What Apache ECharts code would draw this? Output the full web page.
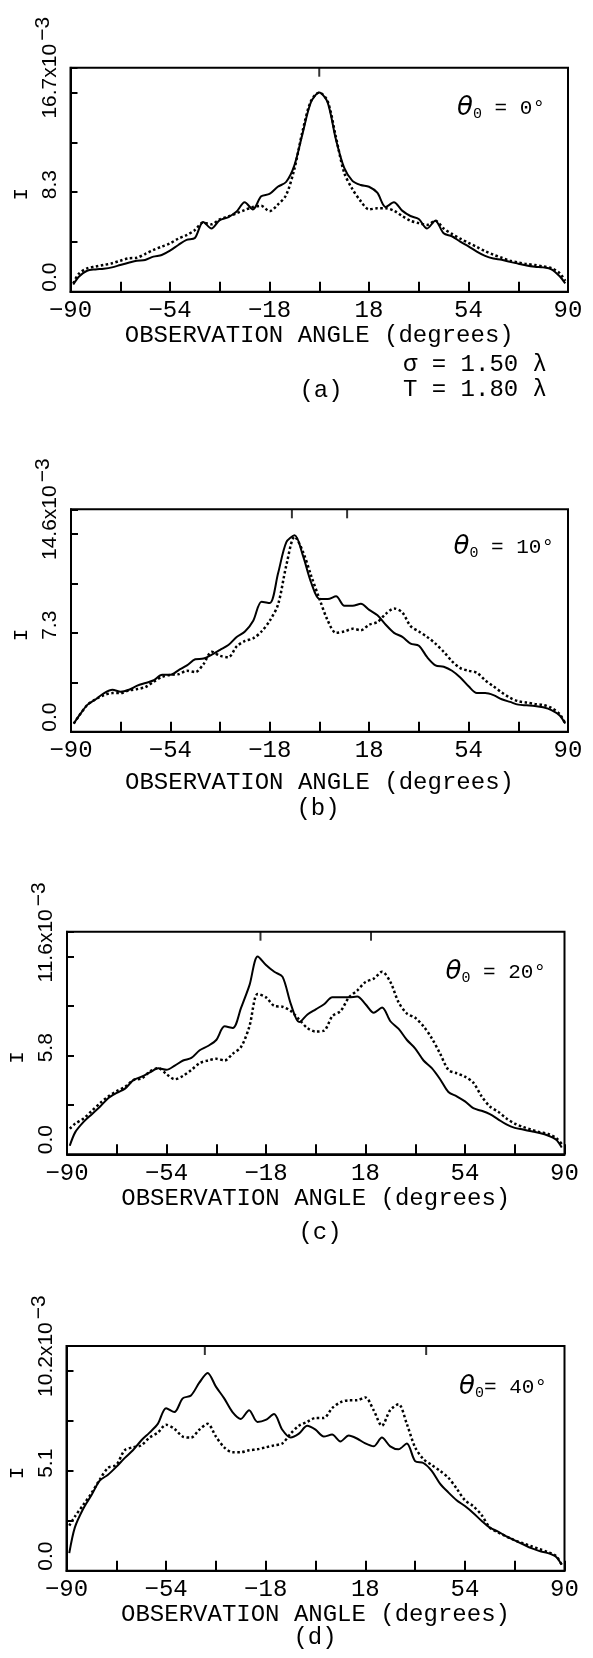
<!DOCTYPE html>
<html>
<head>
<meta charset="utf-8">
<script src="https://cdn.jsdelivr.net/npm/echarts@6.0.0/dist/echarts.min.js"></script>
<style>
  html, body { margin: 0; padding: 0; background: #fff; }
  #chart { width: 593px; height: 1658px; }
</style>
</head>
<body>
<div id="chart"></div>
<script>
// observation angles (degrees), shared by every curve
const ANGLES = [
  -89, -87, -84, -81, -78, -75, -72, -69, -66, -63,
  -60, -57, -54, -51, -48, -45, -42, -39, -36, -33,
  -30, -27, -24, -21, -18, -15, -12, -9, -6, -3,
  0,
  3, 6, 9, 12, 15, 18, 21, 24, 27, 30,
  33, 36, 39, 42, 45, 48, 51, 54, 57, 60,
  63, 66, 69, 72, 75, 78, 81, 84, 87, 89
];

// intensity I (x10^-3), solid and dotted curves per panel
const SOLID_A = [
  0.6, 1.26, 1.76, 1.87, 1.93, 2.04, 2.24, 2.43, 2.6, 2.66,
  2.94, 3.08, 3.44, 3.92, 4.35, 4.5, 5.85, 5.3, 6.0, 6.24,
  6.7, 7.5, 6.9, 8.0, 8.2, 8.8, 9.2, 10.6, 13.3, 15.9,
  16.7,
  15.9, 12.8, 10.4, 9.3, 8.95, 8.8, 8.3, 7.1, 7.5, 6.8,
  6.35, 6.1, 5.3, 5.95, 4.9, 4.65, 4.2, 3.8, 3.36, 3.0,
  2.78, 2.68, 2.5, 2.35, 2.2, 2.1, 2.04, 1.88, 1.3, 0.7
];
const DOTTED_A = [
  0.7, 1.5, 1.96, 2.1, 2.24, 2.38, 2.6, 2.8, 2.85, 3.16,
  3.5, 3.78, 4.05, 4.45, 4.75, 5.17, 5.8, 5.65, 6.07, 6.3,
  6.57, 6.85, 7.1, 7.2, 6.75, 7.3, 8.1, 10.3, 13.5, 16.0,
  16.7,
  16.0, 13.0, 10.0, 8.6, 7.6, 6.9, 7.0, 7.0, 6.8, 6.35,
  5.95, 5.75, 5.6, 5.95, 5.3, 4.85, 4.45, 4.1, 3.75, 3.4,
  3.1, 2.85, 2.6, 2.45, 2.32, 2.24, 2.12, 1.98, 1.55, 0.9
];
const SOLID_B = [
  0.6, 1.2, 2.0, 2.4, 2.85, 3.1, 2.95, 3.1, 3.4, 3.6,
  3.8, 4.2, 4.2, 4.55, 4.9, 5.35, 5.4, 5.7, 6.05, 6.4,
  7.0, 7.4, 8.2, 9.6, 9.5, 11.7, 14.0, 14.5, 13.0, 11.0,
  9.8,
  9.8, 10.0, 9.3, 9.3, 9.45, 9.0, 8.6, 7.9, 7.3, 7.0,
  6.5, 6.35, 5.5, 4.9, 4.8, 4.5, 4.0, 3.35, 2.85, 2.85,
  2.7, 2.4, 2.2, 2.0, 1.95, 1.9, 1.8, 1.6, 1.2, 0.6
];
const DOTTED_B = [
  0.6, 1.2, 2.0, 2.4, 2.7, 2.85, 2.85, 3.05, 3.15, 3.3,
  3.7, 4.05, 4.2, 4.25, 4.5, 4.4, 5.0, 5.9, 5.6, 5.5,
  6.3, 6.7, 6.9, 7.4, 8.2, 9.4, 12.3, 14.4, 13.3, 11.5,
  9.8,
  8.2, 7.3, 7.4, 7.6, 7.5, 7.9, 8.1, 8.7, 9.1, 8.8,
  7.8, 7.4, 7.0, 6.5, 5.9, 5.2, 4.7, 4.5, 4.35, 3.8,
  3.35, 2.9, 2.5, 2.25, 2.15, 2.05, 1.97, 1.75, 1.3, 0.6
];
const SOLID_C = [
  0.5, 1.3, 1.9, 2.35, 2.8, 3.3, 3.6, 3.85, 4.35, 4.55,
  4.8, 5.05, 4.95, 5.2, 5.5, 5.65, 6.1, 6.35, 6.7, 7.5,
  7.4, 8.6, 9.9, 11.6, 11.1, 10.7, 10.4, 8.8, 7.75, 8.2,
  8.5,
  8.8, 9.2, 9.2, 9.2, 9.25, 8.8, 8.3, 8.6, 7.8, 7.35,
  6.7, 6.2, 5.5, 5.05, 4.4, 3.65, 3.4, 3.1, 2.7, 2.55,
  2.35, 2.05, 1.75, 1.55, 1.45, 1.35, 1.25, 1.1, 0.85, 0.4
];
const DOTTED_C = [
  1.5, 1.8, 2.1, 2.55, 3.0, 3.4, 3.7, 3.95, 4.35, 4.45,
  4.85, 5.05, 4.7, 4.4, 4.6, 4.95, 5.35, 5.5, 5.6, 5.5,
  5.9, 6.3, 7.5, 9.4, 9.2, 8.7, 8.65, 8.4, 7.9, 7.4,
  7.2,
  7.25, 8.1, 8.4, 9.2, 9.6, 10.1, 10.3, 10.7, 10.1, 8.9,
  8.25, 8.0, 7.5, 6.8, 5.9, 4.95, 4.75, 4.55, 4.2, 3.4,
  2.8, 2.5, 2.1, 1.8, 1.6, 1.45, 1.3, 1.2, 0.95, 0.6
];
const SOLID_D = [
  0.9, 2.2, 3.15, 3.85, 4.6, 4.9, 5.3, 5.75, 6.15, 6.65,
  7.05, 7.5, 8.3, 8.1, 8.8, 8.95, 9.6, 10.1, 9.4, 8.8,
  8.1, 7.75, 8.2, 7.6, 7.7, 8.0, 7.2, 6.8, 7.0, 7.4,
  7.2,
  6.85, 6.95, 6.6, 6.9, 6.75, 6.5, 6.35, 6.8, 6.35, 6.2,
  6.5, 5.6, 5.5, 5.1, 4.45, 4.0, 3.6, 3.3, 2.95, 2.55,
  2.2, 2.0, 1.75, 1.55, 1.35, 1.15, 1.0, 0.9, 0.7, 0.3
];
const DOTTED_D = [
  2.3, 2.76, 3.35, 3.95, 4.65, 5.25, 5.4, 6.15, 6.3, 6.4,
  6.8, 7.05, 7.45, 7.25, 6.85, 6.8, 7.2, 7.5, 6.85, 6.3,
  6.05, 6.05, 6.15, 6.2, 6.3, 6.4, 6.5, 7.0, 7.4, 7.6,
  7.8,
  7.8, 8.3, 8.6, 8.7, 8.7, 8.85, 8.2, 7.4, 8.2, 8.5,
  7.5, 6.3, 5.7, 5.4, 5.1, 4.75, 4.2, 3.6, 3.3, 2.85,
  2.2, 1.95, 1.75, 1.55, 1.4, 1.25, 1.1, 0.95, 0.75, 0.3
];

const SOLID = [SOLID_A, SOLID_B, SOLID_C, SOLID_D];
const DOTTED = [DOTTED_A, DOTTED_B, DOTTED_C, DOTTED_D];

// incidence angle theta_0 for each panel
const INCIDENCE = [0, 10, 20, 40];
// labelled y ticks
const Y_TOP = [16.7, 14.6, 11.6, 10.2];
const Y_TOP_LABELS = ['16.7', '14.6', '11.6', '10.2'];
const Y_MID_LABELS = ['8.3', '7.3', '5.8', '5.1'];
// labelled x ticks
const X_LABELS = [-90, -54, -18, 18, 54, 90];
const PANEL_LABELS = ['(a)', '(b)', '(c)', '(d)'];
const THETA_TEXT = [' = 0°', ' = 10°', ' = 20°', '= 40°'];

// layout of the four plot boxes
const boxes = [
  { left: 70.5, top: 67.7, width: 497.5, height: 224, nameGap: 27, thX: 545, thY: 108, labX: 321, labY: 391 },
  { left: 71, top: 509.3, width: 497, height: 222.4, nameGap: 39, thX: 554, thY: 547, labX: 318, labY: 809 },
  { left: 67, top: 931.7, width: 497.5, height: 222.6, nameGap: 29, thX: 546, thY: 972, labX: 320, labY: 1233 },
  { left: 66.5, top: 1346, width: 498, height: 224.7, nameGap: 27, thX: 547, thY: 1387, labX: 315, labY: 1638 }
];

const MONO = '"Liberation Mono", "DejaVu Sans Mono", monospace';
const SANS = '"Liberation Sans", "DejaVu Sans", sans-serif';
const black = '#000';
const lineSt = { color: black, width: 2 };

function fmtAngle(v) {
  v = Math.round(v);
  return v < 0 ? '\u2212' + (-v) : String(v);
}

const myChart = echarts.init(document.getElementById('chart'), null, { renderer: 'canvas' });

const grid = [];
const xAxis = [];
const yAxis = [];
const series = [];
const graphic = [];

boxes.forEach(function (b, i) {
  const top = Y_TOP[i];
  const step = top / 4;
  const ymax = top * 1.125;
  const inc = INCIDENCE[i];

  grid.push({
    left: b.left, top: b.top, width: b.width, height: b.height,
    show: true, borderColor: black, borderWidth: 2, backgroundColor: 'transparent'
  });

  xAxis.push({
    type: 'value', gridIndex: i, position: 'bottom',
    min: -90, max: 90, interval: 18,
    axisLine: { show: true, onZero: false, lineStyle: lineSt },
    axisTick: { show: true, inside: true, length: 10, lineStyle: lineSt },
    axisLabel: {
      show: true, margin: 7, color: black, fontFamily: MONO, fontSize: 24,
      formatter: function (v) {
        return X_LABELS.indexOf(Math.round(v)) >= 0 ? fmtAngle(v) : '';
      }
    },
    splitLine: { show: false },
    name: 'OBSERVATION ANGLE (degrees)',
    nameLocation: 'middle',
    nameGap: b.nameGap,
    nameTextStyle: { color: black, fontFamily: MONO, fontSize: 24 }
  });

  yAxis.push({
    type: 'value', gridIndex: i,
    min: 0, max: ymax, interval: step,
    axisLine: { show: true, onZero: false, lineStyle: lineSt },
    axisTick: { show: true, inside: true, length: 7, lineStyle: lineSt },
    axisLabel: { show: false },
    splitLine: { show: false }
  });

  series.push({
    type: 'line', xAxisIndex: i, yAxisIndex: i,
    data: ANGLES.map(function (a, j) { return [a, SOLID[i][j]]; }),
    showSymbol: false, smooth: 0.3, silent: true,
    lineStyle: { color: black, width: 2 }
  });
  series.push({
    type: 'line', xAxisIndex: i, yAxisIndex: i,
    data: ANGLES.map(function (a, j) { return [a, DOTTED[i][j]]; }),
    showSymbol: false, smooth: 0.3, silent: true,
    lineStyle: { color: black, width: 2.5, type: [2.5, 2.5] }
  });
  // short ticks hanging from the top edge at +/- theta_0
  const incTicks = inc === 0 ? [0] : [-inc, inc];
  series.push({
    type: 'scatter', xAxisIndex: i, yAxisIndex: i,
    data: incTicks.map(function (t) { return [t, ymax]; }),
    symbol: 'rect', symbolSize: [2, 9], symbolOffset: [0, 4.5],
    clip: false, silent: true,
    itemStyle: { color: black }
  });

  // theta_0 label inside the box
  graphic.push({
    type: 'text', x: b.thX, y: b.thY, silent: true,
    style: {
      text: '{th|\u03b8}{sb|0}{eq|' + THETA_TEXT[i] + '}',
      align: 'right', verticalAlign: 'middle',
      rich: {
        th: { fontFamily: '"DejaVu Sans"', fontStyle: 'italic', fontSize: 26, lineHeight: 28, verticalAlign: 'middle', fill: black },
        sb: { fontFamily: MONO, fontSize: 15, lineHeight: 15, verticalAlign: 'bottom', fill: black },
        eq: { fontFamily: MONO, fontSize: 21, lineHeight: 28, verticalAlign: 'middle', fill: black }
      }
    }
  });
  // panel label
  graphic.push({
    type: 'text', x: b.labX, y: b.labY, silent: true,
    style: { text: PANEL_LABELS[i], align: 'center', verticalAlign: 'middle',
      fontFamily: MONO, fontSize: 24, fill: black }
  });
});

// roughness parameters under panel (a)
graphic.push({
  type: 'text', x: 403, y: 365, silent: true,
  style: { text: '\u03c3 = 1.50 \u03bb', align: 'left', verticalAlign: 'middle',
    fontFamily: MONO, fontSize: 24, fill: black }
});
graphic.push({
  type: 'text', x: 403, y: 390, silent: true,
  style: { text: 'T = 1.80 \u03bb', align: 'left', verticalAlign: 'middle',
    fontFamily: MONO, fontSize: 24, fill: black }
});

const option = {
  animation: false,
  backgroundColor: '#fff',
  grid: grid,
  xAxis: xAxis,
  yAxis: yAxis,
  series: series
};

myChart.setOption(option);

// vertical y tick labels, placed from the axis scale
const yRich = {
  n: { fontFamily: SANS, fontSize: 21, lineHeight: 28, verticalAlign: 'bottom', fill: black },
  e: { fontFamily: SANS, fontSize: 21, lineHeight: 20, verticalAlign: 'top', padding: [0, 0, 0, 3], fill: black }
};
function yText(x, y, text, align) {
  return {
    type: 'text', x: x, y: y, rotation: Math.PI / 2, silent: true,
    style: { text: text, align: align || 'left', verticalAlign: 'bottom', rich: yRich }
  };
}
boxes.forEach(function (b, i) {
  const step = Y_TOP[i] / 4;
  const p0 = myChart.convertToPixel({ gridIndex: i }, [-90, 0]);
  const pm = myChart.convertToPixel({ gridIndex: i }, [-90, 2 * step]);
  const pt = myChart.convertToPixel({ gridIndex: i }, [-90, 4 * step]);
  const lx = p0[0] - 10;
  graphic.push(yText(lx, p0[1], '{n|0.0}'));
  graphic.push(yText(lx, pm[1] + 7, '{n|' + Y_MID_LABELS[i] + '}'));
  graphic.push(yText(lx, pt[1] + 26, '{n|' + Y_TOP_LABELS[i] + 'x10}{e|\u22123}'));
  // axis name "I"
  graphic.push({
    type: 'text', x: p0[0] - 49.5, y: pm[1] + 2, rotation: Math.PI / 2, silent: true,
    style: { text: 'I', align: 'center', verticalAlign: 'middle',
      fontFamily: MONO, fontSize: 21, fill: black }
  });
});

myChart.setOption({ graphic: graphic });
window.addEventListener('resize', myChart.resize);
</script>
</body>
</html>
